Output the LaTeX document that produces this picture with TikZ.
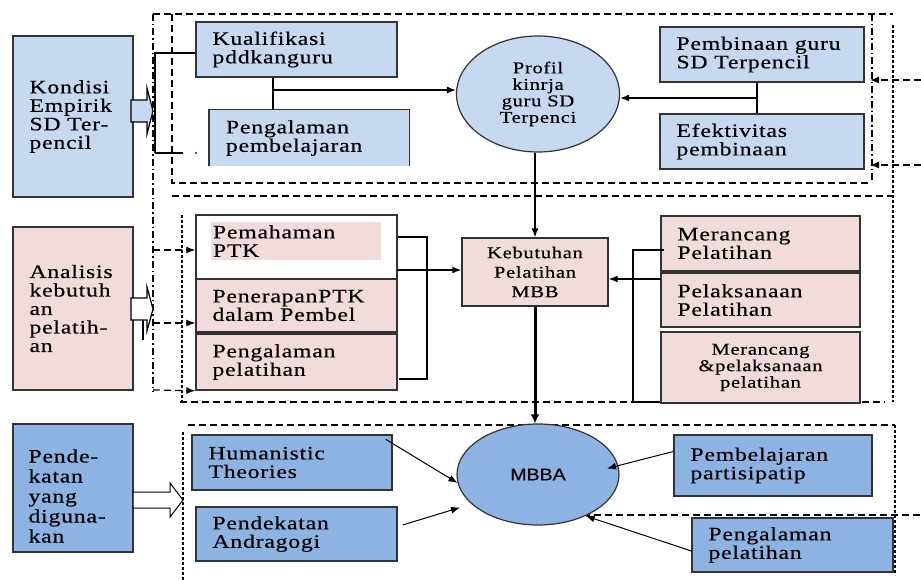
\documentclass[tikz,border=0pt]{standalone}
\usepackage{fontspec}
\setmainfont{Liberation Serif}[FakeStretch=1.25,LetterSpace=4,FakeBold=0.4]
\newfontfamily\mbbafont{Liberation Sans}[FakeStretch=1.15,FakeBold=0.4]
\usetikzlibrary{arrows.meta,calc,shapes.geometric}
\definecolor{lblue}{HTML}{C6D9F1}
\definecolor{pinkc}{HTML}{F2DCDB}
\definecolor{dblue}{HTML}{8DB3E2}
\tikzset{
 bx/.style={draw=black!80, line width=1.4pt, inner sep=0pt},
 txt/.style={align=left, inner sep=0pt, font=\fontsize{19}{18.5}\selectfont},
 ctxt/.style={align=center, font=\fontsize{16.5}{19.5}\selectfont},
 arr/.style={-{Latex[length=9pt,width=7pt]}, line width=1.2pt},
 frameline/.style={dash pattern=on 7pt off 4pt, line width=1.2pt},
 dashdotline/.style={dash pattern=on 7pt off 3pt on 1.5pt off 3pt, line width=1.2pt},
 dotline/.style={dash pattern=on 3pt off 2pt, line width=1.4pt},
 conn/.style={line width=1.2pt},
}
% name, style, cx, cy, w, h, text
\newcommand\tbox[7]{%
 \node[#2, minimum width=#5pt, minimum height=#6pt] (#1) at (#3,#4) {};
 \node[txt, anchor=west] (#1t) at ([xshift=17pt]#1.west) {#7};}
\begin{document}
\begin{tikzpicture}[x=1pt,y=-1pt]
\useasboundingbox (0,0) rectangle (921,580);
\fill[white] (0,0) rectangle (921,580);

% ---------- frames ----------
\draw[dashdotline] (153,14) -- (153,392);
\draw[frameline] (153,14) -- (893,14);
\draw[frameline] (172,14) -- (172,183) -- (872,183);
\draw[dashdotline] (872,14) -- (872,183);
\draw[dotline] (893,25) -- (893,402);
\draw[frameline] (172,196) -- (893,196);
\draw[dotline] (182,215) -- (182,403);
\draw[frameline] (180,402) -- (885,402);
\draw[frameline] (188,425) -- (895,425);
\draw[dotline] (895,425) -- (895,515);
\draw[frameline] (583,515) -- (921,515);
\draw[dotline] (183,432) -- (183,580);
\draw[dotline] (895,515) -- (895,575);

% ---------- left column ----------
\tbox{kond}{bx,fill=lblue}{73}{116.5}{120}{161}{Kondisi\\Empirik\\SD Ter-\\pencil}
\tbox{anal}{bx,fill=pinkc}{73}{308.5}{120}{163}{Analisis\\kebutuh\\an\\pelatih-\\an}
\node[bx,fill=dblue, minimum width=120pt, minimum height=128pt] (pend) at (73,488) {};
\node[txt, anchor=west, font=\fontsize{19}{20}\selectfont] (pendt) at ([xshift=16pt,yshift=-8pt]pend.west) {Pende-\\katan\\yang\\diguna-\\kan};

% block arrows
\draw[line width=1.2pt, fill=lblue] (131,100) -- (147,100) -- (147,88) -- (153,111) -- (147,134) -- (147,122) -- (131,122) -- cycle;
\draw[line width=1.2pt, fill=white] (131,298) -- (147,298) -- (147,287) -- (153,309) -- (147,331) -- (147,320) -- (131,320) -- cycle;
\draw[line width=2.5pt] (143,320) -- (143,340);
\draw[line width=1pt, fill=white] (133,492) -- (170,492) -- (170,483) -- (183,500) -- (170,517) -- (170,508) -- (133,508) -- cycle;

% ---------- top group ----------
\tbox{kual}{bx,fill=lblue}{296.5}{49.5}{201}{55}{Kualifikasi\\pddkanguru}
\node[fill=lblue, minimum width=200pt, minimum height=56pt, inner sep=0pt] (peng1) at (309,138) {};
\draw[draw=black!80, line width=1.4pt] (peng1.south west) -- (peng1.north west) -- (peng1.north east) -- (peng1.south east);
\node[txt, anchor=west] (peng1t) at ([xshift=17pt]peng1.west) {Pengalaman\\pembelajaran};
\node[ellipse, draw=black!80, line width=1.2pt, fill=lblue, minimum width=163pt, minimum height=116pt, inner sep=0pt, align=center, font=\fontsize{16.5}{16.5}\selectfont] (profil) at (538,94) {Profil\\kinrja\\guru SD\\Terpenci};
\tbox{pemb}{bx,fill=lblue}{762}{54.5}{204}{55}{Pembinaan guru\\SD Terpencil}
\tbox{efek}{bx,fill=lblue}{762}{141.5}{204}{55}{Efektivitas\\pembinaan}

\coordinate (ka) at (155,53);
\coordinate (kb) at (155,153);
\coordinate (kc) at (183,153);
\draw[line width=1.8pt] (kb) -- (ka) -- (kual.west |- ka);
\draw[line width=1.8pt] (kb) -- (kc);
\fill (196,153) circle (1pt);

\coordinate (j1) at (273,90);
\draw[conn] (kual.south -| j1) -- (peng1.north -| j1);
\draw[arr] (j1) -- (j1 -| profil.west);
\coordinate (j2) at (757,98);
\draw[conn] (pemb.south -| j2) -- (efek.north -| j2);
\draw[arr] (j2) -- (j2 -| profil.east);

\coordinate (r1) at (921,80);
\coordinate (r1e) at (870,80);
\coordinate (r2) at (921,165);
\coordinate (r2e) at (870,165);
\draw[frameline, arr] (r1) -- (r1e);
\draw[frameline, arr] (r2) -- (r2e);

% ---------- middle group ----------
\node[bx, fill=white, minimum width=201pt, minimum height=64pt] (pema) at (296.5,247) {};
\node[fill=pinkc, minimum width=170pt, minimum height=38pt, inner sep=0pt] (pemahl) at (296,241) {};
\node[txt, anchor=west] (pemat) at ([xshift=2pt]pemahl.west) {Pemahaman\\PTK};
\tbox{pene}{bx,fill=pinkc}{296.5}{305.5}{201}{53}{PenerapanPTK\\dalam Pembel}
\tbox{pengp}{bx,fill=pinkc}{296.5}{362}{201}{56}{Pengalaman\\pelatihan}

\node[bx, fill=pinkc, minimum width=146pt, minimum height=68pt, ctxt] (kebu) at (535,272) {Kebutuhan\\Pelatihan\\MBB};

\tbox{meran}{bx,fill=pinkc}{760.5}{243.5}{199}{55}{Merancang\\Pelatihan}
\tbox{pelak}{bx,fill=pinkc}{760.5}{300}{199}{54}{Pelaksanaan\\Pelatihan}
\node[bx, fill=pinkc, minimum width=199pt, minimum height=71pt, align=center, font=\fontsize{16.5}{16.5}\selectfont] (merpel) at (760.5,367.5) {Merancang\\\&pelaksanaan\\pelatihan};

% left dashed arrows
\coordinate (s1) at (153,250);
\coordinate (s2) at (153,323);
\coordinate (s3) at (153,390);
\draw[frameline, arr] (s1) -- (s1 -| pema.west);
\draw[frameline, arr] (s2) -- (s2 -| pene.west);
\draw[frameline, arr] (s3) -- (pengp.south west);

% brackets
\coordinate (b1) at (427,237);
\coordinate (b2) at (427,379);
\draw[conn] (pema.east |- b1) -- (b1) -- (b2) -- ([xshift=1pt]pengp.east |- b2);
\coordinate (b3) at (397,270);
\draw[arr] (b3) -- (b3 -| kebu.west);
\coordinate (c1) at (633,250);
\coordinate (c2) at (633,402);
\draw[conn] ([xshift=4pt]meran.west |- c1) -- (c1) -- (c2) -- (merpel.west |- c2);
\coordinate (c3) at (661,279);
\draw[arr] (c3) -- (c3 -| kebu.east);

\draw[arr] (kebu.north |- profil.south) -- (kebu.north);

% ---------- bottom group ----------
\node[ellipse, draw=black!80, line width=1.2pt, fill=dblue, minimum width=162pt, minimum height=101pt, inner sep=0pt, font=\mbbafont\fontsize{17}{17}\selectfont] (mbba) at (538,474.5) {MBBA};
\draw[line width=3pt, -{Latex[length=9pt,width=9pt]}] (kebu.south) -- (kebu.south |- mbba.north);

\tbox{human}{bx,fill=dblue}{292}{462.5}{200}{55}{Humanistic\\Theories}
\tbox{andra}{bx,fill=dblue}{296.5}{534}{201}{54}{Pendekatan\\Andragogi}
\tbox{parti}{bx,fill=dblue}{773}{465.5}{198}{61}{Pembelajaran\\partisipatip}
\tbox{pengp2}{bx,fill=dblue}{792.5}{545}{201}{54}{Pengalaman\\pelatihan}

\draw[arr, line width=1pt] ([xshift=-7pt,yshift=-5pt]human.north east) -- (mbba.186);
\draw[arr, line width=1pt] ([xshift=5pt,yshift=9pt]andra.east) -- ($(mbba.center)+(-78,33)$);
\draw[arr, line width=1pt] ([yshift=14pt]parti.west) -- ($(mbba.center)+(69,-6)$);
\draw[arr, line width=1pt] ([yshift=-6pt]pengp2.west) -- (mbba.319);
\end{tikzpicture}
\end{document}
